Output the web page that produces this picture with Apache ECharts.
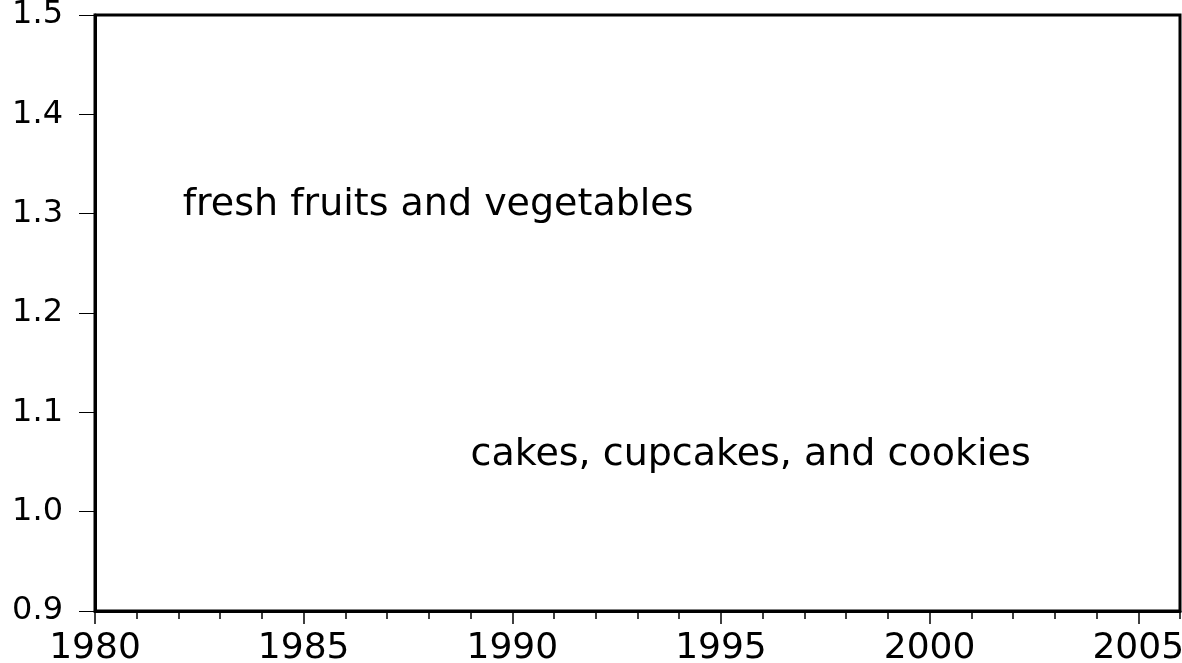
<!DOCTYPE html>
<html>
<head>
<meta charset="utf-8">
<script src="https://cdn.jsdelivr.net/npm/echarts@6/dist/echarts.min.js"></script>
<style>
html,body{margin:0;padding:0;background:#fff;}
#chart{width:1182px;height:663px;}
</style>
</head>
<body>
<div id="chart"></div>
<script>
const xMin = 1980, xMax = 2006;
const yMin = 0.9, yMax = 1.5;
const annotationTexts = ['fresh fruits and vegetables', 'cakes, cupcakes, and cookies'];
const annotationYears = [1982.1, 1989.0];
const annotationValues = [1.309, 1.057];

const chart = echarts.init(document.getElementById('chart'), null, {renderer: 'canvas'});
const font = 'DejaVu Sans';
const option = {
  animation: false,
  backgroundColor: '#ffffff',
  grid: {left: 95, right: 2, top: 15, bottom: 52, show: true, borderColor: '#000', borderWidth: 3,
    backgroundColor: 'transparent', containLabel: false, outerBoundsMode: 'none'},
  xAxis: [
    {
      type: 'value', min: xMin, max: xMax, interval: 1, position: 'bottom',
      axisLine: {show: true, lineStyle: {color: '#000', width: 3}},
      axisTick: {show: true, length: 8, lineStyle: {color: '#000', width: 1.5}},
      axisLabel: {show: false},
      splitLine: {show: false}
    },
    {
      type: 'value', min: xMin, max: xMax, interval: 5, position: 'bottom',
      axisLine: {show: false},
      axisTick: {show: true, length: 13, lineStyle: {color: '#000', width: 1.5}},
      axisLabel: {show: true, showMaxLabel: false, margin: 20, color: '#000', fontFamily: font, fontSize: 36,
        formatter: v => String(v)},
      splitLine: {show: false}
    }
  ],
  yAxis: {
    type: 'value', min: yMin, max: yMax, interval: 0.1,
    axisLine: {show: true, lineStyle: {color: '#000', width: 3}},
    axisTick: {show: true, length: 16, lineStyle: {color: '#000', width: 1}},
    axisLabel: {show: true, margin: 32, color: '#000', fontFamily: font, fontSize: 32,
      formatter: v => v.toFixed(1)},
    splitLine: {show: false}
  },
  series: [{
    type: 'scatter',
    xAxisIndex: 0,
    symbolSize: 0,
    silent: true,
    itemStyle: {opacity: 1},
    data: annotationTexts.map((t, i) => ({value: [annotationYears[i], annotationValues[i]], name: t})),
    label: {
      show: true, position: 'right', distance: 0, opacity: 1,
      formatter: p => p.name,
      color: '#000', fontFamily: font, fontSize: 38
    }
  }]
};
chart.setOption(option);
</script>
</body>
</html>
